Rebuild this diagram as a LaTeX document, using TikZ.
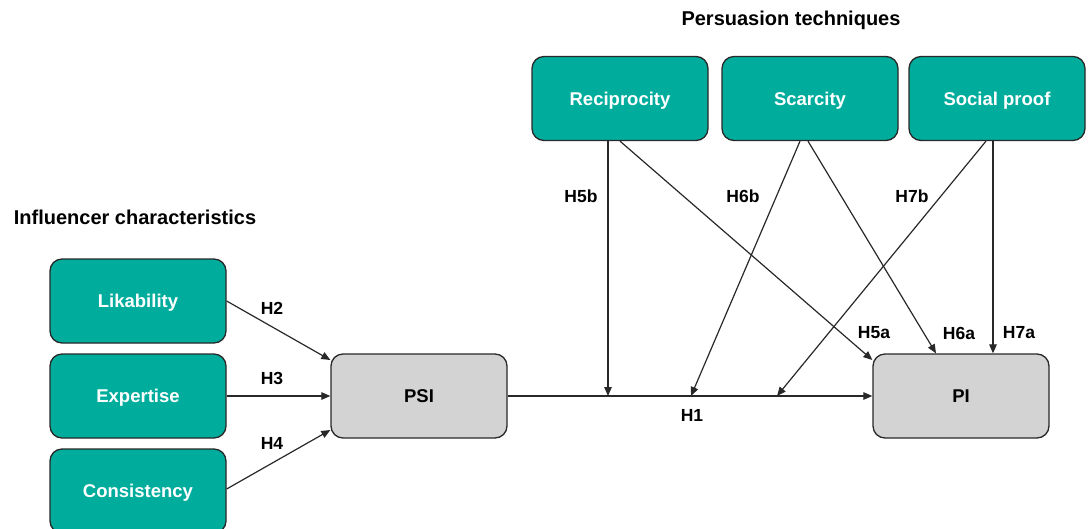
\documentclass[tikz,border=0pt]{standalone}
\usepackage{fontspec}
\setmainfont{Liberation Sans}
\usetikzlibrary{calc,arrows.meta}
\definecolor{teal1}{RGB}{0,173,157}
\definecolor{gray1}{RGB}{211,211,211}
\definecolor{edge1}{RGB}{40,40,40}
\begin{document}
\begin{tikzpicture}[x=1pt,y=-1pt,
  box/.style={draw=edge1,line width=1.3pt,rounded corners=12pt,minimum width=176pt,minimum height=84pt,inner sep=0pt,text height=13.2pt,text depth=0pt,font=\bfseries\fontsize{18.5}{22}\selectfont},
  tealbox/.style={box,fill=teal1,text=white},
  graybox/.style={box,fill=gray1,text=black},
  arr/.style={draw=edge1,line width=1.2pt,-{Triangle[length=9pt,width=7.5pt]}},
  hlab/.style={font=\bfseries\fontsize{17.5}{20}\selectfont,inner sep=0pt},
  ttl/.style={font=\bfseries\fontsize{20}{24}\selectfont,inner sep=0pt}]
\useasboundingbox (0,0) rectangle (1088,528);
\begin{scope}
\clip (0,0) rectangle (1088,528);
\node[tealbox] (lik) at (138,301) {Likability};
\node[tealbox] (exp) at (138,396) {Expertise};
\node[tealbox] (con) at (138,491) {Consistency};
\end{scope}
\node[graybox] (psi) at (419,396) {PSI};
\node[graybox] (pi) at (961,396) {PI};
\node[tealbox] (rec) at (620,98.5) {Reciprocity};
\node[tealbox] (sca) at (810,98.5) {Scarcity};
\node[tealbox] (soc) at (997,98.5) {Social proof};

\node[ttl] (t1) at (791,20) {Persuasion techniques};
\node[ttl] (t2) at (135,217) {Influencer characteristics};

% left arrows
\draw[arr] (lik.east) -- ($(psi.west)+(0,-36)$);
\draw[arr] (exp.east) -- (psi.west);
\draw[arr] ($(con.east)+(0,-2)$) -- ($(psi.west)+(0,34)$);

% main H1 line
\coordinate (j5) at (608,396);
\coordinate (j6) at (691,396);
\coordinate (j7) at (777,396);
\draw[arr] (psi.east) -- (pi.west);

% moderators
\draw[arr] (rec.south -| j5) -- (j5);
\draw[arr] (rec.south) -- ($(pi.west)+(0,-36)$);
\draw[arr] ($(sca.south)+(-10,0)$) -- (j6);
\draw[arr] ($(sca.south)+(-2,0)$) -- ($(pi.north)+(-25,0)$);
\draw[arr] ($(soc.south)+(-11,0)$) -- (j7);
\draw[arr] ($(soc.south)+(-4,0)$) coordinate (s7) -- (s7 |- pi.north);

% labels
\node[hlab] (h2) at (272,308) {H2};
\node[hlab] (h3) at (272,378) {H3};
\node[hlab] (h4) at (272,443) {H4};
\node[hlab] (h1) at (692,415) {H1};
\node[hlab] (h5b) at (581,196) {H5b};
\node[hlab] (h6b) at (743,196) {H6b};
\node[hlab] (h7b) at (912,196) {H7b};
\node[hlab] (h5a) at (874,333) {H5a};
\node[hlab] (h6a) at (959,333) {H6a};
\node[hlab] (h7a) at (1019,333) {H7a};
\end{tikzpicture}
\end{document}
